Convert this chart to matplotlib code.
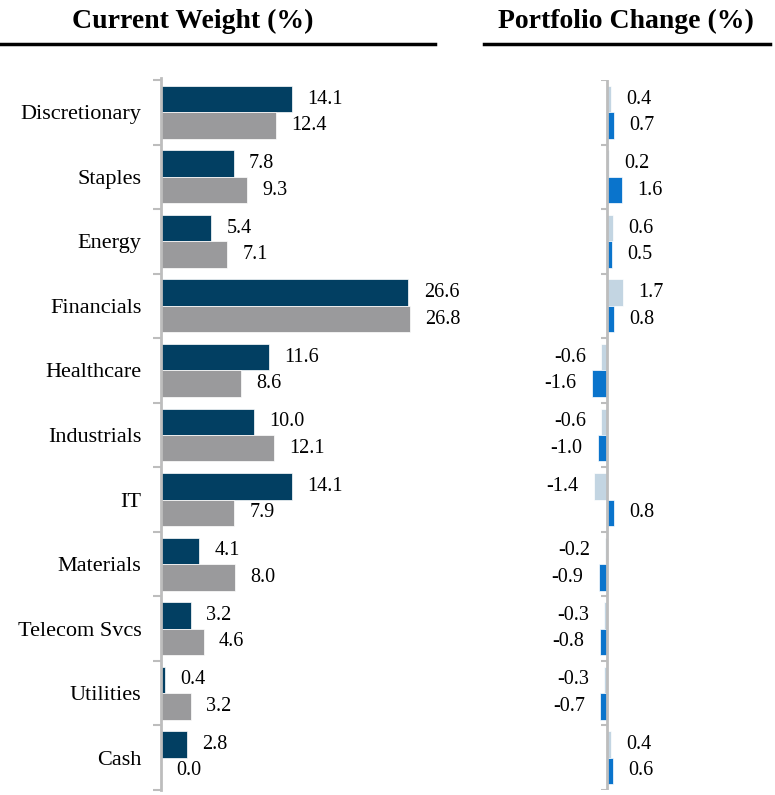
import matplotlib.pyplot as plt
from matplotlib.lines import Line2D
import numpy as np

plt.rcParams['font.family'] = ['Liberation Serif', 'DejaVu Serif']

sectors = ["Discretionary", "Staples", "Energy", "Financials", "Healthcare",
           "Industrials", "IT", "Materials", "Telecom Svcs", "Utilities", "Cash"]
weight_fund = [14.1, 7.8, 5.4, 26.6, 11.6, 10.0, 14.1, 4.1, 3.2, 0.4, 2.8]
weight_bench = [12.4, 9.3, 7.1, 26.8, 8.6, 12.1, 7.9, 8.0, 4.6, 3.2, 0.0]
change_prev = [0.4, 0.2, 0.6, 1.7, -0.6, -0.6, -1.4, -0.2, -0.3, -0.3, 0.4]
change_curr = [0.7, 1.6, 0.5, 0.8, -1.6, -1.0, 0.8, -0.9, -0.8, -0.7, 0.6]

NAVY = "#023F62"
GREY = "#9A9A9C"
PALE = "#C3D5E2"
BLUE = "#0A74CC"
SPINE = "#BDBDBD"

W, H = 775, 795
PX = 9.3  # pixels per percentage point
fig = plt.figure(figsize=(W / 100, H / 100), dpi=100)

n = len(sectors)
y = np.arange(n)
bh = 0.41
bounds = np.arange(n + 1) - 0.5


def setup(ax):
    ax.set_ylim(n - 0.5, -0.5)
    for s in ["top", "right", "bottom"]:
        ax.spines[s].set_visible(False)
    sp = ax.spines["left"]
    sp.set_color(SPINE)
    sp.set_linewidth(2)
    sp.set_bounds(n - 0.5, -0.53)
    ax.set_xticks([])
    ax.set_yticks(bounds, minor=True)
    ax.tick_params(axis="y", which="minor", length=6, width=1.5, color=SPINE)
    ax.tick_params(axis="y", which="major", length=0)
    ax.patch.set_visible(False)


def label_bars(ax, bars, vals):
    for b, v in zip(bars, vals):
        yc = b.get_y() + b.get_height() / 2
        off, ha = (-11, "right") if v < 0 else (11, "left")
        ax.annotate(f"{v:.1f}", (v, yc), xytext=(off, 0), textcoords="offset points",
                    ha=ha, va="center", fontsize=14.5, annotation_clip=False)


# current weights
ax1 = fig.add_axes([161 / W, 5 / H, 274 / W, 710 / H])
b1 = ax1.barh(y - bh / 2, weight_fund, height=bh, color=NAVY, edgecolor="white", linewidth=0.5)
b2 = ax1.barh(y + bh / 2, weight_bench, height=bh, color=GREY, edgecolor="white", linewidth=0.5)
ax1.set_xlim(0, 274 / PX)
setup(ax1)
ax1.set_yticks(y)
ax1.set_yticklabels(sectors, fontsize=16)
ax1.tick_params(axis="y", which="major", pad=14)
label_bars(ax1, b1, weight_fund)
label_bars(ax1, b2, weight_bench)

# portfolio change: zero line drawn by hand, negatives extend left of it
ax2 = fig.add_axes([560 / W, 5 / H, 200 / W, 710 / H])
ax2.set_xlim(-47 / PX, 153 / PX)
c1 = ax2.barh(y - bh / 2, change_prev, height=bh, color=PALE, edgecolor="white", linewidth=0.5)
c2 = ax2.barh(y + bh / 2, change_curr, height=bh, color=BLUE, edgecolor="white", linewidth=0.5)
setup(ax2)
ax2.spines["left"].set_visible(False)
ax2.tick_params(axis="y", which="both", length=0)
ax2.set_yticks([])
ax2.plot([0, 0], [n - 0.5, -0.53], color=SPINE, lw=2, zorder=4, solid_capstyle="butt")
ax2.hlines(bounds, -6 / PX, 0, color=SPINE, lw=1.5, zorder=4)
label_bars(ax2, c1, change_prev)
label_bars(ax2, c2, change_curr)

# panel headings with rules underneath
fig.text(193 / W, 1 - 21 / H, "Current Weight (%)", ha="center", va="center",
         fontsize=20, fontweight="bold")
fig.text(626 / W, 1 - 21 / H, "Portfolio Change (%)", ha="center", va="center",
         fontsize=20, fontweight="bold")
fig.add_artist(Line2D([0, 435 / W], [1 - 44 / H] * 2, color="black", lw=2.5,
                      transform=fig.transFigure))
fig.add_artist(Line2D([484 / W, 770 / W], [1 - 44 / H] * 2, color="black", lw=2.5,
                      transform=fig.transFigure))

fig.savefig("out.png", dpi=100)
